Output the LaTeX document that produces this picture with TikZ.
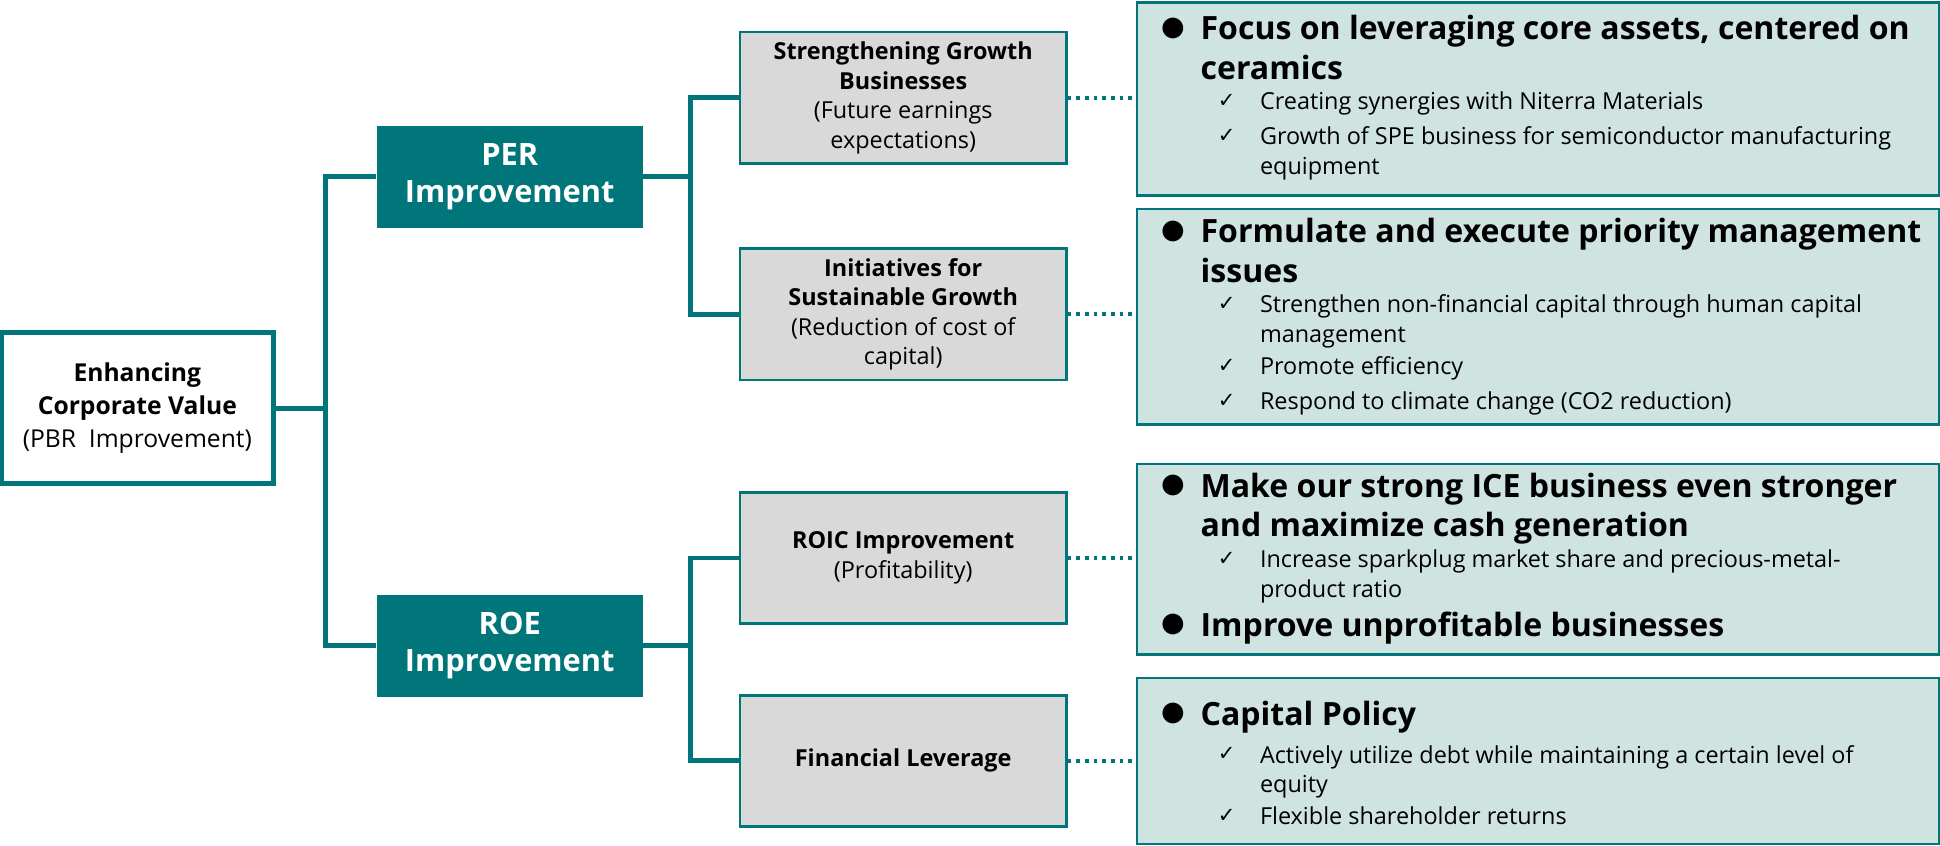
\documentclass[tikz,border=0pt]{standalone}
\usepackage{fontspec}
\setmainfont{Open Sans}
\newfontfamily\sym{DejaVu Sans}
\definecolor{teal1}{HTML}{00757A}
\definecolor{greyf}{HTML}{D9D9D9}
\definecolor{pale}{HTML}{CFE4E1}
\tikzset{
 conn/.style={teal1,line width=2bp},
 dot/.style={teal1,line width=1.5bp,dotted},
 grey/.style={draw=teal1,fill=greyf,line width=1bp,align=center,font=\fontsize{9.5}{12}\selectfont},
 dark/.style={fill=teal1,text=white,align=center,font=\bfseries\fontsize{12.5}{15}\selectfont},
 panel/.style={draw=teal1,fill=pale,line width=1bp},
 hd/.style={anchor=north west,align=left,font=\bfseries\fontsize{13}{16}\selectfont,inner sep=0},
 sb/.style={anchor=north west,align=left,font=\fontsize{9.5}{12}\selectfont,inner sep=0},
 bl/.style={anchor=north west,font=\sym\fontsize{11}{16}\selectfont,inner sep=0},
 ck/.style={anchor=north west,font=\sym\fontsize{8.5}{12}\selectfont,inner sep=0},
}
\begin{document}
\begin{tikzpicture}[x=0.5bp,y=-0.5bp]
\useasboundingbox (0,0) rectangle (1568,683);
% root
\node[draw=teal1,line width=2bp,fill=white,minimum width=110bp,minimum height=61bp,align=center,font=\fontsize{10}{13.5}\selectfont] (root) at (111,330) {\textbf{Enhancing}\\\textbf{Corporate Value}\\(PBR\ \ Improvement)};
\node[dark,minimum width=107.5bp,minimum height=41bp] (per) at (412,143) {PER\\Improvement};
\node[dark,minimum width=107.5bp,minimum height=41bp] (roe) at (412,522) {ROE\\Improvement};
\node[grey,minimum width=132bp,minimum height=53bp] (g1) at (730,79) {\textbf{Strengthening Growth}\\\textbf{Businesses}\\(Future earnings\\expectations)};
\node[grey,minimum width=132bp,minimum height=53bp] (g2) at (730,254) {\textbf{Initiatives for}\\\textbf{Sustainable Growth}\\(Reduction of cost of\\capital)};
\node[grey,minimum width=132bp,minimum height=53bp] (g3) at (730,451) {\textbf{ROIC Improvement}\\(Profitability)};
\node[grey,minimum width=132bp,minimum height=53bp] (g4) at (730,615) {\textbf{Financial Leverage}};
\coordinate (j1) at (263,330);
\coordinate (j2) at (558,143);
\coordinate (j3) at (558,522);
\draw[conn] (root.east) -- (j1);
\draw[conn] (per.west) -| (j1) |- (roe.west);
\draw[conn] (per.east) -- (j2);
\draw[conn] (g1.west) -| (j2) |- (g2.west);
\draw[conn] (roe.east) -- (j3);
\draw[conn] (g3.west) -| (j3) |- (g4.west);
% panels
\node[panel,minimum width=324bp,minimum height=78bp,anchor=north west] (p1) at (918,1) {};
\node[panel,minimum width=324bp,minimum height=87bp,anchor=north west] (p2) at (918,168) {};
\node[panel,minimum width=324bp,minimum height=77bp,anchor=north west] (p3) at (918,374) {};
\node[panel,minimum width=324bp,minimum height=67bp,anchor=north west] (p4) at (918,547) {};
\draw[dot] (g1.east) -- (g1.east -| p1.west);
\draw[dot] (g2.east) -- (g2.east -| p2.west);
\draw[dot] (g3.east) -- (g3.east -| p3.west);
\draw[dot] (g4.east) -- (g4.east -| p4.west);
% panel 1
\node[bl] (b1) at (938,14) {●};
\node[hd] (h1) at (970,12) {Focus on leveraging core assets, centered on\\ceramics};
\node[ck] (c11) at (984,76) {✓};
\node[sb] (s11) at (1018,74) {Creating synergies with Niterra Materials};
\node[ck] (c12) at (984,104) {✓};
\node[sb] (s12) at (1018,102) {Growth of SPE business for semiconductor manufacturing\\equipment};
% panel 2
\node[bl] (b2) at (938,178) {●};
\node[hd] (h2) at (970,176) {Formulate and execute priority management\\issues};
\node[ck] (c21) at (984,240) {✓};
\node[sb] (s21) at (1018,238) {Strengthen non-financial capital through human capital\\management};
\node[ck] (c22) at (984,290) {✓};
\node[sb] (s22) at (1018,288) {Promote efficiency};
\node[ck] (c23) at (984,318) {✓};
\node[sb] (s23) at (1018,316) {Respond to climate change (CO2 reduction)};
% panel 3
\node[bl] (b3) at (938,384) {●};
\node[hd] (h3) at (970,382) {Make our strong ICE business even stronger\\and maximize cash generation};
\node[ck] (c31) at (984,446) {✓};
\node[sb] (s31) at (1018,444) {Increase sparkplug market share and precious-metal-\\product ratio};
\node[bl] (b4) at (938,496) {●};
\node[hd] (h4) at (970,494) {Improve unprofitable businesses};
% panel 4
\node[bl] (b5) at (938,568) {●};
\node[hd] (h5) at (970,566) {Capital Policy};
\node[ck] (c41) at (984,604) {✓};
\node[sb] (s41) at (1018,602) {Actively utilize debt while maintaining a certain level of\\equity};
\node[ck] (c42) at (984,654) {✓};
\node[sb] (s42) at (1018,652) {Flexible shareholder returns};
\end{tikzpicture}
\end{document}
